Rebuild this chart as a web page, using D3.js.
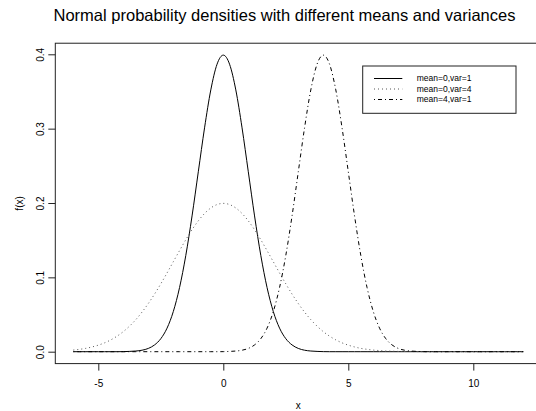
<!DOCTYPE html>
<html lang="en">
<head>
    <meta charset="UTF-8">
    <title>Normal densities</title>
    <script src="https://d3js.org/d3.v7.min.js"></script>
    <style>
        body { margin: 0; background: white; }
        svg { display: block; font-family: "Liberation Sans", Arial, sans-serif; }
    </style>
</head>
<body>
<svg width="536" height="411"></svg>
<script>

    // x grid the curves are read on
    let xValues = [-6, -5.75, -5.5, -5.25, -5, -4.75, -4.5, -4.25, -4, -3.75, -3.5, -3.25, -3, -2.75, -2.5, -2.25,
        -2, -1.75, -1.5, -1.25, -1, -0.75, -0.5, -0.25, 0, 0.25, 0.5, 0.75, 1, 1.25, 1.5, 1.75,
        2, 2.25, 2.5, 2.75, 3, 3.25, 3.5, 3.75, 4, 4.25, 4.5, 4.75, 5, 5.25, 5.5, 5.75,
        6, 6.25, 6.5, 6.75, 7, 7.25, 7.5, 7.75, 8, 8.25, 8.5, 8.75, 9, 9.25, 9.5, 9.75,
        10, 10.25, 10.5, 10.75, 11, 11.25, 11.5, 11.75, 12];

    // mean=0, var=1
    let dens01 = [0, 0, 0, 0, 0, 0, 0, 0, 0.0001, 0.0004, 0.0009, 0.0020, 0.0044, 0.0091, 0.0175, 0.0317,
        0.0540, 0.0863, 0.1295, 0.1826, 0.2420, 0.3011, 0.3521, 0.3867, 0.3989, 0.3867, 0.3521, 0.3011, 0.2420, 0.1826, 0.1295, 0.0863,
        0.0540, 0.0317, 0.0175, 0.0091, 0.0044, 0.0020, 0.0009, 0.0004, 0.0001, 0, 0, 0, 0, 0, 0, 0,
        0, 0, 0, 0, 0, 0, 0, 0, 0, 0, 0, 0, 0, 0, 0, 0,
        0, 0, 0, 0, 0, 0, 0, 0, 0];

    // mean=0, var=4
    let dens04 = [0.0022, 0.0032, 0.0045, 0.0064, 0.0088, 0.0119, 0.0159, 0.0209, 0.0270, 0.0344, 0.0431, 0.0533, 0.0648, 0.0775, 0.0913, 0.1059,
        0.1210, 0.1360, 0.1506, 0.1641, 0.1760, 0.1859, 0.1933, 0.1979, 0.1995, 0.1979, 0.1933, 0.1859, 0.1760, 0.1641, 0.1506, 0.1360,
        0.1210, 0.1059, 0.0913, 0.0775, 0.0648, 0.0533, 0.0431, 0.0344, 0.0270, 0.0209, 0.0159, 0.0119, 0.0088, 0.0064, 0.0045, 0.0032,
        0.0022, 0.0015, 0.0010, 0.0007, 0.0004, 0.0003, 0.0002, 0.0001, 0.0001, 0, 0, 0, 0, 0, 0, 0,
        0, 0, 0, 0, 0, 0, 0, 0, 0];

    // mean=4, var=1
    let dens41 = [0, 0, 0, 0, 0, 0, 0, 0, 0, 0, 0, 0, 0, 0, 0, 0,
        0, 0, 0, 0, 0, 0, 0, 0, 0.0001, 0.0004, 0.0009, 0.0020, 0.0044, 0.0091, 0.0175, 0.0317,
        0.0540, 0.0863, 0.1295, 0.1826, 0.2420, 0.3011, 0.3521, 0.3867, 0.3989, 0.3867, 0.3521, 0.3011, 0.2420, 0.1826, 0.1295, 0.0863,
        0.0540, 0.0317, 0.0175, 0.0091, 0.0044, 0.0020, 0.0009, 0.0004, 0.0001, 0, 0, 0, 0, 0, 0, 0,
        0, 0, 0, 0, 0, 0, 0, 0, 0];

    let seriesNames = ["mean=0,var=1", "mean=0,var=4", "mean=4,var=1"];
    let xTicks = [-5, 0, 5, 10];
    let yTicks = [0, 0.1, 0.2, 0.3, 0.4];
    let titleText = "Normal probability densities with different means and variances";

    let svg = d3.select('svg');

    let xScale = d3.scaleLinear().domain([-6, 12]).range([73.3, 523.3]);
    let yScale = d3.scaleLinear().domain([0, 0.4]).range([351.7, 54.3]);

    // plot box (R pads 4% each side)
    let boxLeft = xScale(-6.72), boxRight = xScale(12.72);
    let boxTop = yScale(0.4149), boxBottom = yScale(-0.016);

    svg.append('rect')
        .attr('x', boxLeft).attr('y', boxTop)
        .attr('width', boxRight - boxLeft).attr('height', boxBottom - boxTop)
        .attr('fill', 'none').attr('stroke', '#222').attr('stroke-width', 1);

    // curves
    let dashes = [null, "1,3", "1,3,4,3"];
    let strokes = ['black', '#555', 'black'];
    let allSeries = [dens01, dens04, dens41];
    let line = d3.line()
        .x(function (d, i) { return xScale(xValues[i]); })
        .y(function (d) { return yScale(d); })
        .curve(d3.curveMonotoneX);

    svg.selectAll('path.curve')
        .data(allSeries)
        .enter().append('path')
        .attr('class', 'curve')
        .attr('d', line)
        .attr('fill', 'none')
        .attr('stroke', function (d, i) { return strokes[i]; })
        .attr('stroke-width', 1)
        .attr('stroke-dasharray', function (d, i) { return dashes[i]; });

    // x axis
    let xAxis = svg.append('g')
        .attr('transform', 'translate(0,' + boxBottom + ')')
        .call(d3.axisBottom(xScale).tickValues(xTicks).tickSize(7).tickPadding(9)
            .tickFormat(function (d) { return String(d); }));
    xAxis.select('.domain').remove();
    xAxis.selectAll('text').style('font-size', '10px').style('font-family', '"Liberation Sans", Arial, sans-serif').attr('fill', 'black');
    xAxis.selectAll('line').attr('stroke', '#222');

    // y axis with rotated labels
    let yAxis = svg.append('g')
        .attr('transform', 'translate(' + boxLeft + ',0)')
        .call(d3.axisLeft(yScale).tickValues(yTicks).tickSize(7).tickFormat(d3.format('.1f')));
    yAxis.select('.domain').remove();
    yAxis.selectAll('line').attr('stroke', '#222');
    yAxis.selectAll('text')
        .attr('x', 0).attr('dy', null)
        .attr('text-anchor', 'middle')
        .attr('transform', 'translate(-11.7,0) rotate(-90)')
        .style('font-size', '10px').style('font-family', '"Liberation Sans", Arial, sans-serif').attr('fill', 'black');

    // title and axis titles
    svg.append('text')
        .attr('x', 284.5).attr('y', 21)
        .attr('text-anchor', 'middle')
        .style('font-size', '16.5px')
        .text(titleText);

    svg.append('text')
        .attr('x', (boxLeft + boxRight) / 2).attr('y', 408.6)
        .attr('text-anchor', 'middle')
        .style('font-size', '10px')
        .text('x');

    svg.append('text')
        .attr('transform', 'translate(22.6,' + ((boxTop + boxBottom) / 2) + ') rotate(-90)')
        .attr('text-anchor', 'middle')
        .style('font-size', '10px')
        .text('f(x)');

    // legend
    let legend = svg.append('g');
    legend.append('rect')
        .attr('x', 362.7).attr('y', 66)
        .attr('width', 153.3).attr('height', 47.3)
        .attr('fill', 'white').attr('stroke', '#222').attr('stroke-width', 1);

    let rows = legend.selectAll('g.row')
        .data(seriesNames)
        .enter().append('g')
        .attr('class', 'row')
        .attr('transform', function (d, i) { return 'translate(0,' + (78.5 + i * 10.5) + ')'; });

    rows.append('line')
        .attr('x1', 374).attr('x2', 402.3)
        .attr('stroke', function (d, i) { return strokes[i]; }).attr('stroke-width', 1)
        .attr('stroke-dasharray', function (d, i) { return dashes[i]; });

    rows.append('text')
        .attr('x', 416.7).attr('dy', '0.35em')
        .style('font-size', '8.5px')
        .text(function (d) { return d; });

</script>
</body>
</html>
